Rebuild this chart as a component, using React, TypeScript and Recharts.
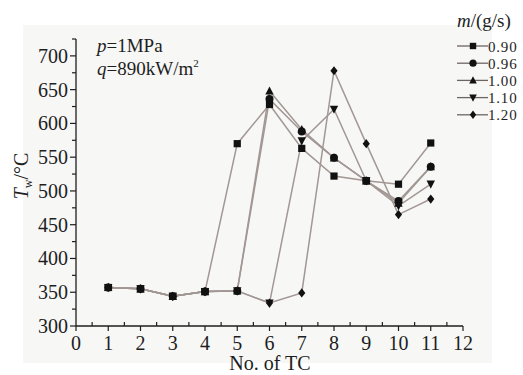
import React from 'react';
import { LineChart, Line, XAxis, YAxis } from 'recharts';

// thermocouple positions and wall temperature (°C) for each mass flow rate
const tcNo = [1, 2, 3, 4, 5, 6, 7, 8, 9, 10, 11];
const tw090 = [357, 355, 344, 351, 570, 628, 563, 522, 515, 510, 571];
const tw096 = [357, 355, 344, 351, 352, 636, 588, 549, 515, 485, 536];
const tw100 = [357, 355, 344, 351, 352, 648, 591, 549, 515, 482, 536];
const tw110 = [357, 355, 344, 351, 352, 334, 574, 621, 515, 478, 510];
const tw120 = [357, 355, 344, 351, 352, 334, 349, 678, 570, 465, 488];

const flowLabels = ['0.90', '0.96', '1.00', '1.10', '1.20'];
const seriesKeys = ['m090', 'm096', 'm100', 'm110', 'm120'];
const shapes = ['square', 'circle', 'triangle', 'triangleDown', 'diamond'];

const xTicks = Array.from({ length: 25 }, (_, i) => i * 0.5);
const yTicks = Array.from({ length: 18 }, (_, i) => 300 + i * 25);

const data = tcNo.map((n, i) => ({
  tc: n,
  m090: tw090[i],
  m096: tw096[i],
  m100: tw100[i],
  m110: tw110[i],
  m120: tw120[i],
}));

const FONT = '"Liberation Serif", "Times New Roman", serif';
const LINE_COLOR = '#a29794';
const INK = '#1e1e1e';

const Marker = ({ cx, cy, shape, r = 3.6 }: { cx: number; cy: number; shape: string; r?: number }) => {
  if (cx == null || cy == null) return null;
  switch (shape) {
    case 'square':
      return <rect x={cx - r} y={cy - r} width={r * 2} height={r * 2} fill="#111" />;
    case 'circle':
      return <circle cx={cx} cy={cy} r={r + 0.4} fill="#111" />;
    case 'triangle':
      return <polygon points={`${cx},${cy - r - 1} ${cx - r - 0.6},${cy + r} ${cx + r + 0.6},${cy + r}`} fill="#111" />;
    case 'triangleDown':
      return <polygon points={`${cx},${cy + r + 1} ${cx - r - 0.6},${cy - r} ${cx + r + 0.6},${cy - r}`} fill="#111" />;
    default:
      return <polygon points={`${cx},${cy - r - 1} ${cx + r},${cy} ${cx},${cy + r + 1} ${cx - r},${cy}`} fill="#111" />;
  }
};

const XTick = (props: any) => {
  const { x, y, payload } = props;
  const v = payload.value as number;
  if (Number.isInteger(v)) {
    return (
      <g>
        <line x1={x} y1={y} x2={x} y2={y + 5} stroke={INK} strokeWidth={1.2} />
        <text x={x} y={y + 24} textAnchor="middle" fontFamily={FONT} fontSize={20} fill={INK}>
          {v}
        </text>
      </g>
    );
  }
  return <line x1={x} y1={y} x2={x} y2={y - 4} stroke={INK} strokeWidth={1.2} />;
};

const YTick = (props: any) => {
  const { x, y, payload } = props;
  const v = payload.value as number;
  if (v % 50 === 0 && v <= 700) {
    return (
      <g>
        <line x1={x - 6} y1={y} x2={x} y2={y} stroke={INK} strokeWidth={1.2} />
        <text x={x - 8} y={y + 7} textAnchor="end" fontFamily={FONT} fontSize={20} fill={INK}>
          {v}
        </text>
      </g>
    );
  }
  return <line x1={x - 4} y1={y} x2={x} y2={y} stroke={INK} strokeWidth={1.2} />;
};

export default function App() {
  return (
    <div style={{ position: 'fixed', left: 0, top: 0, width: 523, height: 375, background: '#fff' }}>
      <div style={{ position: 'absolute', left: 23, top: 25, width: 469, height: 338, background: '#f7f7f6' }} />
      <div style={{ position: 'absolute', left: 0, top: 0 }}>
        <LineChart width={523} height={375} data={data} margin={{ top: 39, right: 60, bottom: 19, left: 26 }}>
          <XAxis
            dataKey="tc"
            type="number"
            domain={[0, 12]}
            ticks={xTicks}
            interval={0}
            height={30}
            tickSize={0}
            tickMargin={0}
            tickLine={false}
            tick={<XTick />}
            axisLine={{ stroke: INK, strokeWidth: 1.3 }}
          />
          <YAxis
            type="number"
            domain={[300, 725]}
            ticks={yTicks}
            interval={0}
            width={50}
            tickSize={0}
            tickMargin={0}
            tickLine={false}
            tick={<YTick />}
            axisLine={{ stroke: INK, strokeWidth: 1.3 }}
            allowDataOverflow
          />
          {seriesKeys.map((key, i) => (
            <Line
              key={key}
              dataKey={key}
              type="linear"
              stroke={LINE_COLOR}
              strokeWidth={1.5}
              isAnimationActive={false}
              dot={(p: any) => <Marker key={`${key}-${p.index}`} cx={p.cx} cy={p.cy} shape={shapes[i]} />}
              activeDot={false}
            />
          ))}
        </LineChart>
      </div>
      <svg
        width={523}
        height={375}
        style={{ position: 'absolute', left: 0, top: 0, pointerEvents: 'none' }}
        fontFamily={FONT}
        fill={INK}
      >
        <text x={97} y={52} fontSize={19}>
          <tspan fontStyle="italic">p</tspan>=1MPa
        </text>
        <text x={97} y={75} fontSize={19}>
          <tspan fontStyle="italic">q</tspan>=890kW/m
          <tspan fontSize={11} dy={-8}>2</tspan>
        </text>
        <text transform="translate(28,176) rotate(-90)" textAnchor="middle" fontSize={20}>
          <tspan fontStyle="italic">T</tspan>
          <tspan fontSize={12} dy={4}>w</tspan>
          <tspan dy={-4}>/°C</tspan>
        </text>
        <text x={270} y={370} textAnchor="middle" fontSize={20}>
          No. of TC
        </text>
        <text x={457} y={27} fontSize={19}>
          <tspan fontStyle="italic">m</tspan>/(g/s)
        </text>
        {flowLabels.map((lab, i) => {
          const ly = 46 + i * 17.2;
          return (
            <g key={lab}>
              <line x1={457} y1={ly} x2={488} y2={ly} stroke="#6d6563" strokeWidth={1.3} />
              <Marker cx={473} cy={ly} shape={shapes[i]} r={3.2} />
              <text x={488} y={ly + 5.5} fontSize={15} letterSpacing={0.8}>
                {lab}
              </text>
            </g>
          );
        })}
      </svg>
    </div>
  );
}
